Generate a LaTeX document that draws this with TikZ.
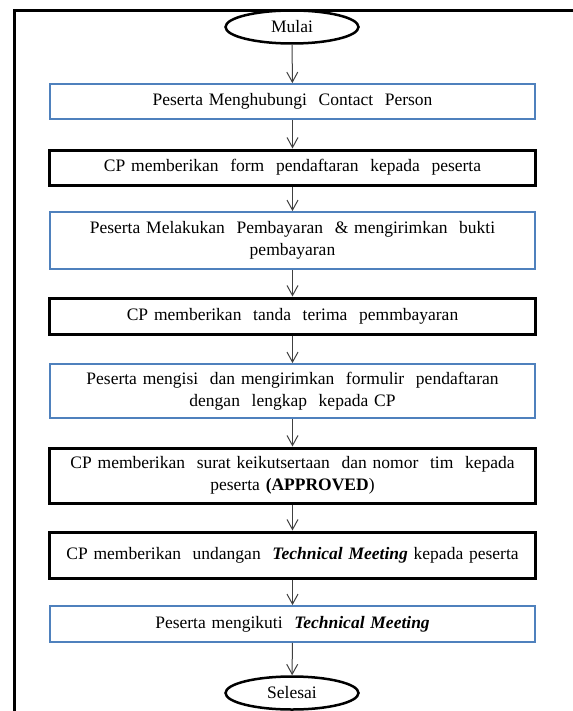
\documentclass[tikz,border=0pt]{standalone}
\usepackage{fontspec}
\setmainfont{Liberation Serif}
\usetikzlibrary{shapes.geometric,arrows.meta}
\definecolor{boxblue}{RGB}{79,129,189}
\definecolor{arrowgray}{RGB}{64,64,64}
\newcommand{\dd}{\ \ }
\begin{document}
\begin{tikzpicture}[x=1bp,y=-1bp,
  every node/.style={font=\fontsize{17.5bp}{22bp}\selectfont, inner sep=0pt, align=center},
  bluebox/.style={draw=boxblue, line width=1.8bp, minimum width=485bp, text width=483bp},
  blackbox/.style={draw=black, line width=3bp, minimum width=485bp, text width=483bp},
  term/.style={ellipse, draw=black, line width=2.5bp, minimum width=133bp, minimum height=33bp},
  flow/.style={draw=arrowgray, line width=1bp, -{Straight Barb[length=10bp,width=11bp]}}]
\useasboundingbox (0,0) rectangle (573,711);
\clip (0,0) rectangle (573,711);
\draw[line width=3bp] (14.5,10.5) rectangle (640,760);
\node[term] (m) at (292,27) {Mulai};
\node[bluebox, minimum height=35bp] (b1) at (292.5,101.5) {Peserta Menghubungi\dd Contact\dd Person};
\node[blackbox, minimum height=35bp] (b2) at (292.5,167.5) {CP memberikan\dd form\dd pendaftaran\dd kepada\dd peserta};
\node[bluebox, minimum height=57bp] (b3) at (292.5,240.5) {Peserta Melakukan\dd Pembayaran\dd \& mengirimkan\dd bukti\\ pembayaran};
\node[blackbox, minimum height=36bp] (b4) at (292.5,316) {CP memberikan\dd tanda\dd terima\dd pemmbayaran};
\node[bluebox, minimum height=54bp] (b5) at (292.5,391) {Peserta mengisi\dd dan mengirimkan\dd formulir\dd pendaftaran\\ dengan\dd lengkap\dd kepada CP};
\node[blackbox, minimum height=55bp] (b6) at (292.5,475.5) {CP memberikan\dd surat keikutsertaan\dd dan nomor\dd tim\dd kepada\\ peserta \textbf{(APPROVED})};
\node[blackbox, minimum height=46bp] (b7) at (292.5,555) {CP memberikan\dd undangan\dd \textbf{\textit{Technical Meeting}} kepada peserta};
\node[bluebox, minimum height=36bp] (b8) at (292.5,624) {Peserta mengikuti\dd \textbf{\textit{Technical Meeting}}};
\node[term] (s) at (292,693) {Selesai};
\draw[flow] (m) -- (b1);
\draw[flow] (b1) -- (b2);
\draw[flow] (b2) -- (b3);
\draw[flow] (b3) -- (b4);
\draw[flow] (b4) -- (b5);
\draw[flow] (b5) -- (b6);
\draw[flow] (b6) -- (b7);
\draw[flow] (b7) -- (b8);
\draw[flow] (b8) -- (s);
\end{tikzpicture}
\end{document}
